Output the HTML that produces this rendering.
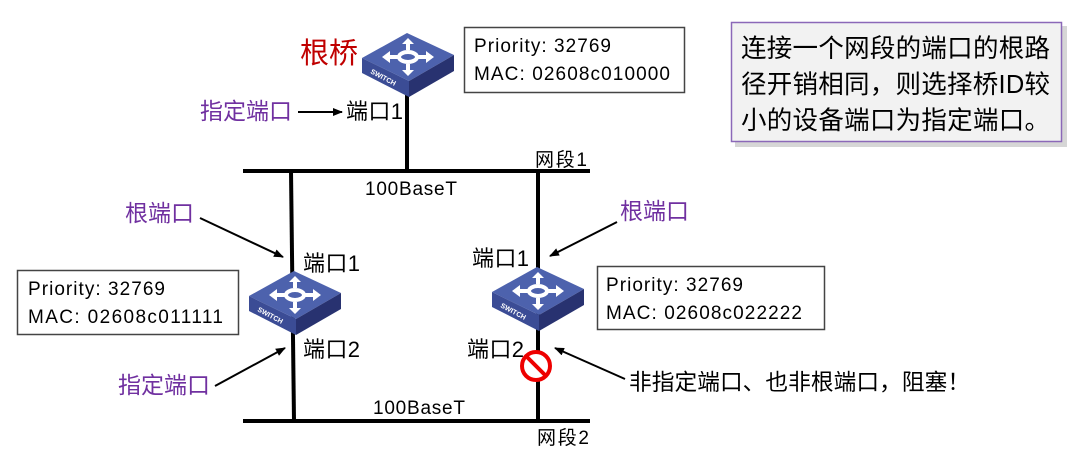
<!DOCTYPE html>
<html><head><meta charset="utf-8"><style>
body{margin:0;width:1069px;height:454px;background:#fff;overflow:hidden;font-family:"Liberation Sans","Noto Sans CJK SC",sans-serif}
svg text{font-family:"Liberation Sans","Noto Sans CJK SC",sans-serif}
</style></head><body>
<svg width="1069" height="454" xmlns="http://www.w3.org/2000/svg">
<defs>
<marker id="a" markerWidth="10" markerHeight="8" refX="9" refY="4" orient="auto" markerUnits="userSpaceOnUse"><path d="M0,0 L10,4 L0,8 Z" fill="#000"/></marker>
<g id="sw">
<polygon points="0,25 45,0 92,22 47,48" fill="#4d62ad"/>
<polygon points="0,25 47,48 47,64 0,40" fill="#3b4c95"/>
<polygon points="47,48 92,22 92,38 47,64" fill="#283270"/>
<ellipse cx="46" cy="24" rx="9" ry="5" fill="none" stroke="#fff" stroke-width="4"/>
<path d="M46,5 L40,11 L52,11 Z M46,43 L40,37 L52,37 Z M20,24 L28,18 L28,30 Z M72,24 L64,18 L64,30 Z" fill="#fff"/>
<path d="M46,10 V17 M46,31 V38 M27,24 H36 M56,24 H65" stroke="#fff" stroke-width="4"/>
<text x="8" y="40" font-size="7" fill="#fff" font-weight="bold" transform="rotate(28 8 40)">SWITCH</text>
</g>
</defs>
<line x1="407" y1="92" x2="407" y2="171" stroke="#000" stroke-width="4"/>
<line x1="243" y1="171" x2="590" y2="171" stroke="#000" stroke-width="4"/>
<line x1="243" y1="421" x2="590" y2="421" stroke="#000" stroke-width="4"/>
<line x1="291" y1="171" x2="294" y2="421" stroke="#000" stroke-width="4"/>
<line x1="538" y1="171" x2="538" y2="421" stroke="#000" stroke-width="4"/>
<use href="#sw" x="362" y="33"/>
<use href="#sw" x="249" y="271"/>
<use href="#sw" x="492" y="267"/>
<circle cx="536" cy="366" r="14" fill="#fff" stroke="#e00" stroke-width="4"/>
<line x1="526" y1="356" x2="546" y2="376" stroke="#e00" stroke-width="4"/>
<text x="300" y="63" font-size="29" fill="#c00000">根桥</text>
<text x="200" y="119" font-size="23" fill="#7030a0">指定端口</text>
<line x1="298" y1="112" x2="342" y2="112" stroke="#000" stroke-width="2" marker-end="url(#a)"/>
<text x="346" y="119" font-size="22" textLength="57">端口1</text>
<text x="535" y="166" font-size="19" textLength="52">网段1</text>
<text x="365" y="195" font-size="19" textLength="92">100BaseT</text>
<text x="125" y="221" font-size="23" fill="#7030a0">根端口</text>
<line x1="200" y1="218" x2="283" y2="257" stroke="#000" stroke-width="2" marker-end="url(#a)"/>
<text x="303" y="271" font-size="22" textLength="57">端口1</text>
<text x="303" y="357" font-size="22" textLength="57">端口2</text>
<text x="118" y="393" font-size="23" fill="#7030a0">指定端口</text>
<line x1="215" y1="386" x2="285" y2="348" stroke="#000" stroke-width="2" marker-end="url(#a)"/>
<text x="620" y="219" font-size="23" fill="#7030a0">根端口</text>
<line x1="617" y1="222" x2="550" y2="256" stroke="#000" stroke-width="2" marker-end="url(#a)"/>
<text x="472" y="266" font-size="22" textLength="57">端口1</text>
<text x="467" y="357" font-size="22" textLength="57">端口2</text>
<line x1="625" y1="379" x2="555" y2="348" stroke="#000" stroke-width="2" marker-end="url(#a)"/>
<text x="629" y="390" font-size="22.7" textLength="341">非指定端口、也非根端口，阻塞！</text>
<text x="373" y="414" font-size="19" textLength="92">100BaseT</text>
<text x="537" y="444" font-size="19" textLength="52">网段2</text>
<rect x="464.5" y="27.5" width="220" height="65" fill="#fff" stroke="#444" stroke-width="1.5"/>
<text x="474" y="52" font-size="19" textLength="137">Priority: 32769</text>
<text x="474" y="80" font-size="19" textLength="196">MAC: 02608c010000</text>
<rect x="17.5" y="270.5" width="221" height="64" fill="#fff" stroke="#444" stroke-width="1.5"/>
<text x="28" y="295" font-size="19" textLength="137">Priority: 32769</text>
<text x="28" y="323" font-size="19" textLength="195">MAC: 02608c011111</text>
<rect x="597.5" y="266.5" width="227" height="63" fill="#fff" stroke="#444" stroke-width="1.5"/>
<text x="606" y="291" font-size="19" textLength="137">Priority: 32769</text>
<text x="606" y="319" font-size="19" textLength="196">MAC: 02608c022222</text>
<rect x="735" y="26" width="332" height="121" fill="#bbb" opacity="0.6"/>
<rect x="731.5" y="22.5" width="330" height="119" fill="#f2f2f2" stroke="#8b68b8" stroke-width="1.5"/>
<text x="741" y="57" font-size="25.5" textLength="309">连接一个网段的端口的根路</text>
<text x="741" y="93" font-size="25.5" textLength="309">径开销相同，则选择桥ID较</text>
<text x="741" y="129" font-size="25.5" textLength="309">小的设备端口为指定端口。</text>
</svg>
</body></html>
